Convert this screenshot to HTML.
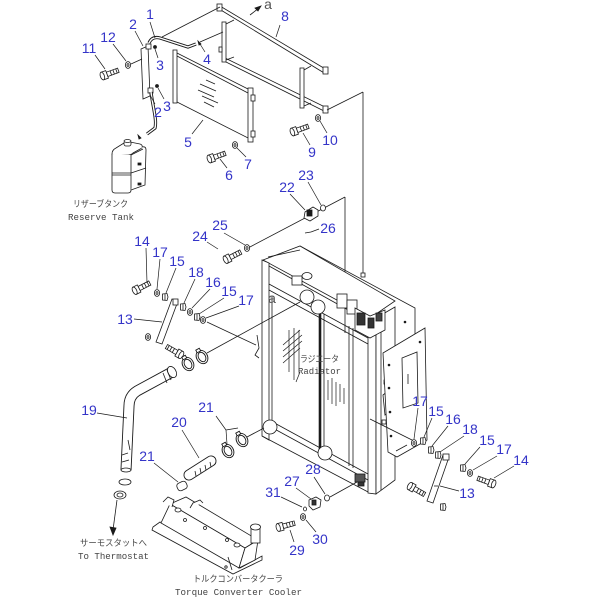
<!DOCTYPE html>
<html><head><meta charset="utf-8"><style>
html,body{margin:0;padding:0;background:#fff;}
svg{display:block;}
.l{font-family:"Liberation Sans",sans-serif;font-size:14px;fill:#3434c8;text-anchor:middle;}
.c{font-family:"Liberation Mono","Noto Sans CJK JP",monospace;font-size:9px;fill:#444;}
</style></head><body>
<svg width="600" height="600" viewBox="0 0 600 600" xmlns="http://www.w3.org/2000/svg">
<defs>
<g id="bolt" fill="#fff" stroke="#1a1a1a" stroke-width="0.8">
<rect x="-1" y="-2.3" width="12" height="4.6"/>
<line x1="3" y1="-2.3" x2="3" y2="2.3"/><line x1="6" y1="-2.3" x2="6" y2="2.3"/><line x1="9" y1="-2.3" x2="9" y2="2.3"/>
<path d="M-6,-4 L-1,-4 L-1,4 L-6,4 Z"/>
<ellipse cx="-6" cy="0" rx="2" ry="4"/>
</g>
<g id="wash" fill="#fff" stroke="#1a1a1a" stroke-width="0.8">
<ellipse cx="0" cy="0" rx="2.6" ry="3.4"/><ellipse cx="0" cy="0" rx="1" ry="1.4"/>
</g>
<g id="nut" fill="#fff" stroke="#1a1a1a" stroke-width="0.8">
<path d="M-2.5,-3 L2,-3.5 L3,0 L2,3.5 L-2.5,3 Z"/><line x1="0" y1="-3.3" x2="0" y2="3.3"/>
</g>
<g id="clamp" fill="#fff" stroke="#1a1a1a" stroke-width="0.9">
<ellipse cx="0" cy="0" rx="5.5" ry="7"/><ellipse cx="0" cy="0" rx="3.5" ry="5"/>
<rect x="-2" y="-9" width="4" height="3"/>
</g>
</defs>

<g stroke="#1a1a1a" stroke-width="0.8" fill="none">
<!-- Frame 8 -->
<line x1="220" y1="6" x2="327" y2="70"/>
<line x1="220" y1="9.5" x2="325" y2="73.5"/>
<line x1="225" y1="58" x2="327" y2="108"/>
<line x1="225" y1="61.5" x2="325" y2="111.5"/>
<rect x="222" y="22" width="4" height="40" fill="#fff"/>
<line x1="226" y1="24" x2="234" y2="20"/>
<line x1="226" y1="60" x2="234" y2="57"/>
<rect x="300" y="68" width="4" height="40" fill="#fff"/>
<line x1="304" y1="70" x2="311" y2="66"/>
<line x1="304" y1="106" x2="311" y2="103"/>
<rect x="217" y="4" width="5" height="7" fill="#fff"/>
<rect x="323" y="67" width="5" height="7" fill="#fff"/>
<rect x="323" y="106" width="5" height="7" fill="#fff"/>
<rect x="219" y="47" width="3" height="5" fill="#fff"/>
<line x1="250" y1="15" x2="259" y2="8"/>
<path d="M261,6 L255,8 L258,11 Z" fill="#1a1a1a"/>
<line x1="220" y1="7" x2="162" y2="37"/>
<line x1="200" y1="42" x2="223" y2="32"/>
<line x1="327" y1="110" x2="363" y2="92"/>
<line x1="363" y1="92" x2="363" y2="276"/>
<line x1="248" y1="248" x2="345" y2="197"/>
<line x1="345" y1="197" x2="345" y2="333"/>

<!-- Condenser 5 -->
<polygon points="175,52 250,90 252,140 177,102" fill="#fff"/>
<line x1="177" y1="56" x2="248" y2="93"/>
<rect x="173" y="50" width="4" height="53" fill="#fff"/>
<rect x="248" y="88" width="5" height="54" fill="#fff"/>
<rect x="251" y="95" width="4" height="6" fill="#fff"/>
<rect x="251" y="131" width="4" height="6" fill="#fff"/>
<line x1="200" y1="84" x2="216" y2="91"/>
<line x1="198" y1="90" x2="214" y2="97"/>
<line x1="202" y1="96" x2="218" y2="103"/>
<line x1="204" y1="102" x2="214" y2="107"/>
<line x1="206" y1="80" x2="215" y2="84"/>

<!-- bracket 2 / hose 1 -->
<polygon points="141,49 148,46 150,96 143,99" fill="#fff"/>
<rect x="146" y="44" width="5" height="5" fill="#fff"/>
<rect x="148" y="88" width="5" height="5" fill="#fff"/>
<path d="M149,43 Q152,36 160,38 L188,47 L196,44" stroke-width="3.2"/>
<path d="M149,43 Q152,36 160,38 L188,47 L196,44" stroke="#fff" stroke-width="1.4"/>
<path d="M151,92 C153,108 157,120 155,128 L147,134" stroke-width="3.2"/>
<path d="M151,92 C153,108 157,120 155,128 L147,134" stroke="#fff" stroke-width="1.4"/>
<path d="M198,41 L201,44 L199,45 Z" fill="#1a1a1a"/>
<circle cx="155" cy="47" r="1.5" fill="#1a1a1a"/>
<circle cx="157" cy="86" r="1.5" fill="#1a1a1a"/>
<path d="M138,135 L141,138 L139,139 Z" fill="#1a1a1a"/>

<!-- Reserve tank -->
<path d="M112,154 Q112,150 116,148 L124,143 Q126,142 130,142 L140,144 Q143,145 142,148 L133,153 Q131,155 127,155 L114,155 Z" fill="#fff"/>
<path d="M112,154 L112,190 Q112,193 115,193 L128,193 Q131,193 131,190 L131,155" fill="#fff"/>
<path d="M131,190 L145,185 L146,150 Q146,146 142,147" fill="#fff"/>
<line x1="131" y1="155" x2="143" y2="149"/>
<line x1="112" y1="173" x2="131" y2="173"/>
<line x1="131" y1="173" x2="146" y2="168"/>
<line x1="112" y1="175" x2="131" y2="175"/>
<rect x="124" y="141" width="7" height="5" rx="2" fill="#fff"/>
<ellipse cx="127.5" cy="141" rx="3.5" ry="1.5" fill="#fff"/>
<rect x="138" y="163" width="3" height="2" fill="#1a1a1a"/>
<rect x="138" y="183" width="3" height="2" fill="#1a1a1a"/>

<!-- bolts & washers top -->
<use href="#bolt" transform="translate(108,74) rotate(-20)"/>
<use href="#wash" transform="translate(128,65)"/>
<line x1="131" y1="64" x2="142" y2="59"/>
<use href="#bolt" transform="translate(215,157) rotate(-20)"/>
<use href="#wash" transform="translate(235,145)"/>
<use href="#bolt" transform="translate(298,130) rotate(-20)"/>
<use href="#wash" transform="translate(318,118)"/>
<use href="#bolt" transform="translate(231,257) rotate(-27)"/>
<use href="#wash" transform="translate(247,248)"/>

<!-- fitting 22 / 23 / 26 -->
<path d="M305,212 L313,207 L318,210 L318,216 L310,221 L304,218 Z" fill="#fff"/>
<rect x="307" y="210" width="5" height="6" fill="#1a1a1a"/>
<ellipse cx="323" cy="208" rx="2.5" ry="3" fill="#fff"/>
<line x1="305" y1="233" x2="311" y2="232"/>

<!-- Radiator -->
<polyline points="300,246 415,308 415,334"/>
<polygon points="263,260 300,246 395,301 370,318" fill="#fff"/>
<line x1="268" y1="257" x2="300" y2="250"/>
<polygon points="262,260 269,263 269,440 262,436" fill="#fff"/>
<line x1="269" y1="266" x2="368" y2="321"/>
<line x1="269" y1="284" x2="368" y2="338"/>
<line x1="269" y1="290" x2="368" y2="344"/>
<line x1="269" y1="420" x2="368" y2="474"/>
<line x1="269" y1="426" x2="368" y2="480"/>
<line x1="262" y1="436" x2="370" y2="493"/>
<polygon points="368,318 376,318 376,494 368,493" fill="#fff"/>
<polygon points="376,318 395,307 395,480 376,494" fill="#fff"/>
<line x1="381" y1="316" x2="381" y2="490"/>
<line x1="320" y1="312" x2="320" y2="450" stroke-width="2.6"/>
<line x1="324" y1="314" x2="324" y2="452"/>
<line x1="349" y1="326" x2="349" y2="466"/>
<line x1="353" y1="328" x2="353" y2="468"/>
<line x1="272" y1="296" x2="272" y2="420"/>
<rect x="337" y="294" width="10" height="14" fill="#fff"/>
<rect x="347" y="300" width="10" height="14" fill="#fff"/>
<path d="M355,308 L370,316 L385,310 L385,330 L370,338 L355,330 Z" fill="#fff"/>
<rect x="357" y="313" width="8" height="12" fill="#333"/>
<rect x="368" y="318" width="6" height="10" fill="#333"/>
<rect x="376" y="313" width="6" height="8" fill="#444"/>
<rect x="292" y="276" width="10" height="9" fill="#fff"/>
<ellipse cx="307" cy="276" rx="5" ry="3.5" fill="#fff"/>
<circle cx="307" cy="297" r="7" fill="#fff"/>
<circle cx="318" cy="307" r="7" fill="#fff"/>
<circle cx="270" cy="427" r="7" fill="#fff"/>
<circle cx="325" cy="453" r="7" fill="#fff"/>
<rect x="361" y="273" width="4" height="4" fill="#fff"/>
<rect x="355" y="474" width="10" height="8" fill="#555"/>
<rect x="358" y="482" width="6" height="4" fill="#333"/>
<g stroke-width="0.7">
<line x1="283" y1="345" x2="300" y2="330"/><line x1="283" y1="351" x2="302" y2="335"/>
<line x1="283" y1="357" x2="302" y2="341"/><line x1="283" y1="363" x2="300" y2="348"/>
<line x1="289" y1="330" x2="289" y2="372"/><line x1="294" y1="328" x2="294" y2="380"/>
<line x1="299" y1="330" x2="299" y2="372"/><line x1="300" y1="372" x2="296" y2="382"/>
<line x1="328" y1="380" x2="328" y2="400"/><line x1="332" y1="378" x2="332" y2="404"/>
<line x1="336" y1="382" x2="336" y2="406"/><line x1="340" y1="384" x2="340" y2="402"/>
<line x1="344" y1="388" x2="344" y2="404"/>
</g>
<path d="M383,395 L392,388 L392,410 L385,415 Z" fill="#fff"/>
<rect x="384" y="380" width="4" height="4" fill="#fff"/>
<rect x="382" y="420" width="4" height="4" fill="#fff"/>
<polygon points="383,353 425,328 427,440 397,457 388,452" fill="#fff"/>
<polygon points="402,358 417,352 418,403 403,408" fill="#fff"/>
<line x1="408" y1="374" x2="408" y2="384"/>
<circle cx="389" cy="365" r="0.9" fill="#1a1a1a"/><circle cx="389" cy="388" r="0.9" fill="#1a1a1a"/>
<circle cx="390" cy="412" r="0.9" fill="#1a1a1a"/><circle cx="391" cy="436" r="0.9" fill="#1a1a1a"/>
<circle cx="420" cy="342" r="0.9" fill="#1a1a1a"/><circle cx="405" cy="322" r="0.9" fill="#1a1a1a"/>
<path d="M257,335 L259,348 L255,355 L259,358"/>

<!-- connection lines -->
<line x1="207" y1="353" x2="300" y2="302"/>
<line x1="207" y1="322" x2="256" y2="345"/>
<line x1="247" y1="437" x2="264" y2="428"/>
<line x1="416" y1="442" x2="370" y2="419"/>
<line x1="330" y1="497" x2="357" y2="482"/>
<line x1="396" y1="451" x2="407" y2="445"/>

<!-- left bracket group -->
<use href="#bolt" transform="translate(140,288) rotate(-27)"/>
<use href="#wash" transform="translate(157,293)"/>
<use href="#nut" transform="translate(165,297)"/>
<use href="#nut" transform="translate(183,307)"/>
<use href="#wash" transform="translate(190,312)"/>
<use href="#nut" transform="translate(197,317)"/>
<use href="#wash" transform="translate(203,320)"/>
<use href="#wash" transform="translate(148,337)"/>
<polygon points="172,299 178,301 162,344 156,342" fill="#fff"/>
<rect x="173" y="299" width="5" height="6" fill="#fff"/>
<use href="#bolt" transform="translate(176,352) rotate(210)"/>

<!-- hoses -->
<path d="M172,372 L137,391 Q129,396 129,406 L126,470" stroke-width="11"/>
<path d="M172,372 L137,391 Q129,396 129,406 L126,470" stroke="#fff" stroke-width="9.2"/>
<ellipse cx="172" cy="372" rx="4" ry="6" transform="rotate(-30 172 372)" fill="#fff"/>
<line x1="167" y1="370" x2="171" y2="380"/>
<line x1="163" y1="373" x2="167" y2="383"/>
<line x1="122" y1="455" x2="128" y2="453"/>
<line x1="122" y1="462" x2="129" y2="460"/>
<line x1="128" y1="440" x2="130" y2="450"/>
<ellipse cx="126" cy="470" rx="5" ry="2" fill="#fff"/>
<path d="M189,475 L211,461" stroke-width="11" stroke-linecap="round"/>
<path d="M189,475 L211,461" stroke="#fff" stroke-width="9.2" stroke-linecap="round"/>
<line x1="195" y1="471" x2="196" y2="476"/><line x1="200" y1="468" x2="201" y2="473"/>
<line x1="205" y1="465" x2="206" y2="470"/><line x1="210" y1="462" x2="211" y2="467"/>
<use href="#clamp" transform="translate(202,357) rotate(-30)"/>
<use href="#clamp" transform="translate(188,364) rotate(-30)"/>
<use href="#clamp" transform="translate(228,451) rotate(-30)"/>
<use href="#clamp" transform="translate(242,440) rotate(-30)"/>
<rect x="177" y="482" width="10" height="8" rx="3" fill="#fff" transform="rotate(-25 182 486)"/>
<ellipse cx="125" cy="482" rx="6" ry="3" fill="#fff"/>
<ellipse cx="120" cy="495" rx="6" ry="4" fill="#fff"/>
<ellipse cx="120" cy="495" rx="3" ry="2" fill="#fff"/>
<line x1="117" y1="500" x2="113" y2="530"/>
<path d="M113,535 L110,527 L116,528 Z" fill="#1a1a1a"/>

<!-- torque converter cooler -->
<polygon points="153,527 160,522 240,568 262,556 262,560 233,574 152,530" fill="#fff"/>
<polygon points="170,504 186,497 258,540 245,548" fill="#fff"/>
<polygon points="170,504 245,548 239,568 161,523" fill="#fff"/>
<polygon points="245,548 258,540 255,560 239,568" fill="#fff"/>
<path d="M163,502 L168,497 L174,500 L172,507" fill="#fff"/>
<ellipse cx="178" cy="510" rx="3" ry="2" fill="#fff"/>
<circle cx="185" cy="520" r="1.5" fill="#fff"/>
<circle cx="205" cy="528" r="1.5" fill="#fff"/>
<circle cx="227" cy="540" r="1.5" fill="#fff"/>
<ellipse cx="237" cy="545" rx="3" ry="2" fill="#fff"/>
<path d="M190,508 L193,503 L200,500 L203,503" fill="#fff"/>
<rect x="251" y="527" width="9" height="16" fill="#fff"/>
<ellipse cx="255.5" cy="527" rx="5" ry="3" fill="#fff"/>
<circle cx="226" cy="567" r="1.2" fill="#fff"/>
<line x1="228" y1="557" x2="232" y2="570"/>

<!-- small parts 27-31 -->
<path d="M309,500 L316,497 L321,500 L320,507 L313,510 L309,506 Z" fill="#fff"/>
<rect x="312" y="500" width="4" height="5" fill="#333"/>
<ellipse cx="327" cy="498" rx="2.5" ry="3" fill="#fff"/>
<ellipse cx="305" cy="509" rx="1.5" ry="2" fill="#fff"/>
<use href="#wash" transform="translate(303,517)"/>
<use href="#bolt" transform="translate(284,526) rotate(-15)"/>

<!-- right bracket group -->
<use href="#wash" transform="translate(414,443)"/>
<use href="#nut" transform="translate(423,441)"/>
<use href="#nut" transform="translate(431,450)"/>
<use href="#nut" transform="translate(438,455)"/>
<use href="#nut" transform="translate(463,468)"/>
<use href="#wash" transform="translate(470,473)"/>
<use href="#bolt" transform="translate(488,482) rotate(200)"/>
<polygon points="443,455 449,457 433,503 427,501" fill="#fff"/>
<rect x="443" y="454" width="6" height="6" fill="#fff"/>
<line x1="434" y1="486" x2="438" y2="486"/>
<use href="#bolt" transform="translate(415,489) rotate(30)"/>
<use href="#nut" transform="translate(443,507)"/>

<!-- leader lines -->
<g stroke-width="0.7">
<line x1="150" y1="22" x2="155" y2="38"/>
<line x1="135" y1="31" x2="143" y2="46"/>
<line x1="158" y1="58" x2="155" y2="49"/>
<line x1="205" y1="52" x2="200" y2="44"/>
<line x1="280" y1="25" x2="276" y2="37"/>
<line x1="113" y1="44" x2="126" y2="61"/>
<line x1="95" y1="55" x2="105" y2="69"/>
<line x1="164" y1="99" x2="158" y2="88"/>
<line x1="155" y1="104" x2="150" y2="95"/>
<line x1="192" y1="134" x2="203" y2="120"/>
<line x1="327" y1="133" x2="320" y2="121"/>
<line x1="310" y1="145" x2="303" y2="133"/>
<line x1="227" y1="168" x2="220" y2="159"/>
<line x1="246" y1="157" x2="237" y2="148"/>
<line x1="308" y1="182" x2="321" y2="205"/>
<line x1="290" y1="194" x2="305" y2="210"/>
<line x1="319" y1="229" x2="311" y2="232"/>
<line x1="224" y1="233" x2="245" y2="245"/>
<line x1="207" y1="242" x2="218" y2="249"/>
<line x1="146" y1="248" x2="147" y2="283"/>
<line x1="160" y1="259" x2="157" y2="289"/>
<line x1="176" y1="268" x2="166" y2="293"/>
<line x1="195" y1="279" x2="184" y2="303"/>
<line x1="210" y1="289" x2="192" y2="308"/>
<line x1="224" y1="298" x2="199" y2="314"/>
<line x1="239" y1="306" x2="206" y2="318"/>
<line x1="134" y1="319" x2="162" y2="322"/>
<line x1="97" y1="413" x2="127" y2="418"/>
<line x1="216" y1="416" x2="226" y2="430"/>
<line x1="226" y1="430" x2="227" y2="444"/>
<line x1="226" y1="430" x2="238" y2="428"/>
<line x1="182" y1="430" x2="199" y2="458"/>
<line x1="154" y1="463" x2="178" y2="482"/>
<line x1="418" y1="408" x2="414" y2="439"/>
<line x1="432" y1="418" x2="424" y2="437"/>
<line x1="448" y1="426" x2="432" y2="446"/>
<line x1="464" y1="436" x2="440" y2="452"/>
<line x1="480" y1="447" x2="465" y2="464"/>
<line x1="497" y1="456" x2="473" y2="470"/>
<line x1="514" y1="466" x2="494" y2="478"/>
<line x1="459" y1="491" x2="440" y2="486"/>
<line x1="314" y1="477" x2="325" y2="494"/>
<line x1="296" y1="488" x2="311" y2="499"/>
<line x1="281" y1="497" x2="302" y2="507"/>
<line x1="316" y1="532" x2="306" y2="520"/>
<line x1="294" y1="542" x2="290" y2="530"/>
</g>
</g>

<!-- part numbers -->
<text x="150" y="19" class="l">1</text>
<text x="133" y="29" class="l">2</text>
<text x="108" y="42" class="l">12</text>
<text x="89" y="53" class="l">11</text>
<text x="160" y="70" class="l">3</text>
<text x="207" y="64" class="l">4</text>
<text x="285" y="21" class="l">8</text>
<text x="167" y="111" class="l">3</text>
<text x="158" y="117" class="l">2</text>
<text x="188" y="147" class="l">5</text>
<text x="330" y="145" class="l">10</text>
<text x="312" y="157" class="l">9</text>
<text x="229" y="180" class="l">6</text>
<text x="248" y="169" class="l">7</text>
<text x="306" y="180" class="l">23</text>
<text x="287" y="192" class="l">22</text>
<text x="220" y="230" class="l">25</text>
<text x="328" y="233" class="l">26</text>
<text x="200" y="241" class="l">24</text>
<text x="142" y="246" class="l">14</text>
<text x="160" y="257" class="l">17</text>
<text x="177" y="266" class="l">15</text>
<text x="196" y="277" class="l">18</text>
<text x="213" y="287" class="l">16</text>
<text x="229" y="296" class="l">15</text>
<text x="246" y="305" class="l">17</text>
<text x="125" y="324" class="l">13</text>
<text x="89" y="415" class="l">19</text>
<text x="206" y="412" class="l">21</text>
<text x="179" y="427" class="l">20</text>
<text x="147" y="461" class="l">21</text>
<text x="420" y="406" class="l">17</text>
<text x="436" y="416" class="l">15</text>
<text x="453" y="424" class="l">16</text>
<text x="470" y="434" class="l">18</text>
<text x="487" y="445" class="l">15</text>
<text x="504" y="454" class="l">17</text>
<text x="521" y="465" class="l">14</text>
<text x="467" y="498" class="l">13</text>
<text x="313" y="474" class="l">28</text>
<text x="292" y="486" class="l">27</text>
<text x="273" y="497" class="l">31</text>
<text x="320" y="544" class="l">30</text>
<text x="297" y="555" class="l">29</text>
<text x="268" y="9" style="font-family:'Liberation Sans',sans-serif;font-size:14px;fill:#555;text-anchor:middle;">a</text>
<text x="272" y="303" style="font-family:'Liberation Sans',sans-serif;font-size:14px;fill:#555;text-anchor:middle;">a</text>

<!-- captions -->
<text x="73" y="207" class="c" textLength="55" lengthAdjust="spacingAndGlyphs">リザーブタンク</text>
<text x="68" y="220" class="c" textLength="66" lengthAdjust="spacingAndGlyphs">Reserve Tank</text>
<text x="300" y="362" class="c" textLength="39" lengthAdjust="spacingAndGlyphs">ラジエータ</text>
<text x="298" y="374" class="c" textLength="43" lengthAdjust="spacingAndGlyphs">Radiator</text>
<text x="80" y="546" class="c" textLength="67" lengthAdjust="spacingAndGlyphs">サーモスタットへ</text>
<text x="78" y="559" class="c" textLength="71" lengthAdjust="spacingAndGlyphs">To Thermostat</text>
<text x="193" y="582" class="c" textLength="90" lengthAdjust="spacingAndGlyphs">トルクコンバータクーラ</text>
<text x="175" y="595" class="c" textLength="127" lengthAdjust="spacingAndGlyphs">Torque Converter Cooler</text>
</svg>
</body></html>
